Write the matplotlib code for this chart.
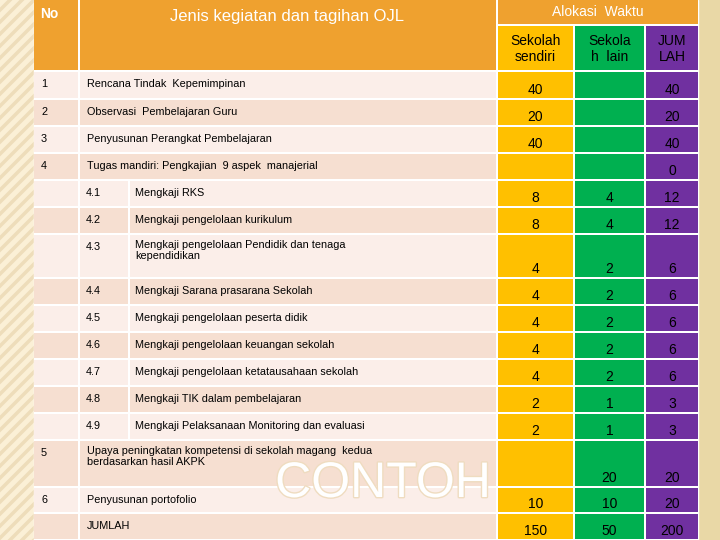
import matplotlib
matplotlib.use("Agg")
import matplotlib.pyplot as plt
from matplotlib.patches import Rectangle
import matplotlib.patheffects as pe

plt.rcParams['font.family'] = ['Liberation Sans', 'DejaVu Sans']

nos = ["1", "2", "3", "4", "", "", "", "", "", "", "", "", "", "5", "6", ""]
subs = ["", "", "", "", "4.1", "4.2", "4.3", "4.4", "4.5", "4.6", "4.7", "4.8", "4.9", "", "", ""]
kegiatan = ["Rencana Tindak  Kepemimpinan", "Observasi  Pembelajaran Guru",
            "Penyusunan Perangkat Pembelajaran", "Tugas mandiri: Pengkajian  9 aspek  manajerial",
            "Mengkaji RKS", "Mengkaji pengelolaan kurikulum",
            "Mengkaji pengelolaan Pendidik dan tenaga\nkependidikan",
            "Mengkaji Sarana prasarana Sekolah", "Mengkaji pengelolaan peserta didik",
            "Mengkaji pengelolaan keuangan sekolah", "Mengkaji pengelolaan ketatausahaan sekolah",
            "Mengkaji TIK dalam pembelajaran", "Mengkaji Pelaksanaan Monitoring dan evaluasi",
            "Upaya peningkatan kompetensi di sekolah magang  kedua\nberdasarkan hasil AKPK",
            "Penyusunan portofolio", "JUMLAH"]
sendiri = ["40", "20", "40", "", "8", "8", "4", "4", "4", "4", "4", "2", "2", "", "10", "150"]
lain = ["", "", "", "", "4", "4", "2", "2", "2", "2", "2", "1", "1", "20", "10", "50"]
jumlah = ["40", "20", "40", "0", "12", "12", "6", "6", "6", "6", "6", "3", "3", "20", "20", "200"]
row_edges = [72, 100, 127, 154, 181, 208, 235, 279, 306, 333, 360, 387, 414, 441, 488, 514, 541]

fig = plt.figure(figsize=(7.2, 5.4), dpi=100)
ax = fig.add_axes([0, 0, 1, 1])
ax.set_xlim(0, 720); ax.set_ylim(540, 0); ax.axis("off")
fig.patch.set_facecolor("#F6E7C3")
strip = Rectangle((0, 0), 34, 540, color="#FBF0D6", zorder=0)
ax.add_patch(strip)
for k in range(-5, 60):
    ln, = ax.plot([0, 34], [k*12 + 34, k*12], color="#EEDDBA", lw=2.5, zorder=0.5)
    ln.set_clip_path(strip)
ax.add_patch(Rectangle((698, 0), 22, 540, color="#E9D8A6", zorder=0))
ax.add_patch(Rectangle((34, 0), 664, 540, color="white", zorder=1))

orange = "#EFA12F"
fs = 7.8
def rect(x0, y0, x1, y1, c):
    ax.add_patch(Rectangle((x0, y0), x1-x0, y1-y0, color=c, zorder=2, lw=0))

rect(34, 0, 78, 70, orange); rect(80, 0, 496, 70, orange)
rect(498, 0, 698, 24, orange)
cols = [(498, 573, "#FFC000", "Sekolah\nsendiri"),
        (575, 644, "#00B050", "Sekola\nh  lain"),
        (646, 698, "#7030A0", "JUM\nLAH")]
for x0, x1, c, t in cols:
    rect(x0, 26, x1, 70, c)
    ax.text((x0+x1)/2, 49, t, ha="center", va="center", fontsize=10, zorder=3, linespacing=1.1)
ax.text(40, 14, "No", color="white", fontsize=10, fontweight="bold", va="center", zorder=3)
ax.text(287, 17, "Jenis kegiatan dan tagihan OJL", color="white", fontsize=12, ha="center", va="center", zorder=3)
ax.text(598, 12, "Alokasi  Waktu", color="white", fontsize=10, ha="center", va="center", zorder=3)

for i in range(len(kegiatan)):
    y0, y1 = row_edges[i], row_edges[i+1]-2
    bg = "#FBEEE9" if i % 2 == 0 else "#F6DFD1"
    rect(34, y0, 78, y1, bg)
    multi = "\n" in kegiatan[i]
    if subs[i]:
        rect(80, y0, 128, y1, bg); rect(130, y0, 496, y1, bg)
        ax.text(86, y0+12, subs[i], fontsize=fs, va="center", zorder=3)
        tx = 135
    else:
        rect(80, y0, 496, y1, bg)
        tx = 87
    if multi:
        ax.text(tx, y0+5, kegiatan[i], fontsize=fs, va="top", zorder=3, linespacing=1.15)
    else:
        ax.text(tx, y0+12, kegiatan[i], fontsize=fs, va="center", zorder=3)
    ax.text(41, y0+12, nos[i], fontsize=fs, va="center", zorder=3)
    for (x0, x1, c, _), v in zip(cols, [sendiri[i], lain[i], jumlah[i]]):
        rect(x0, y0, x1, y1, c)
        ax.text((x0+x1)/2, y1-1, v, fontsize=10, ha="center", va="bottom", zorder=3)

ax.text(383, 484, "CONTOH", fontsize=36, ha="center", va="center", color="#FFFFFF",
        zorder=2.5, path_effects=[pe.withStroke(linewidth=2, foreground="#EFDCC0")])
fig.savefig("out.png", dpi=100)
